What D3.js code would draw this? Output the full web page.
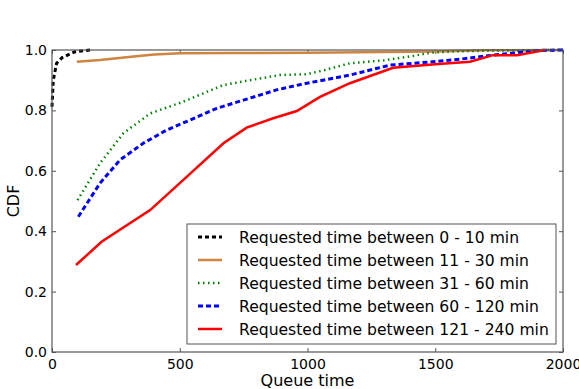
<!DOCTYPE html>
<html>
<head>
<meta charset="utf-8">
<script src="https://cdn.jsdelivr.net/npm/d3@7"></script>
<style>
  body { margin: 0; background: #fff; }
  text { font-family: "DejaVu Sans", sans-serif; }
</style>
</head>
<body>
<div id="chart-area"></div>
<script>
// queue time (x) and CDF (y) for each requested-time bucket
const q0_10   = [0, 5, 18, 40, 90, 150]
const cdf0_10 = [0.812, 0.90, 0.956, 0.975, 0.994, 1.0]

const q11_30   = [97, 188, 300, 400, 501, 700, 1000, 1500, 1700, 2000]
const cdf11_30 = [0.961, 0.967, 0.977, 0.985, 0.989, 0.99, 0.991, 0.995, 0.999, 1.0]

const q31_60   = [100, 188, 279, 384, 514, 671, 775, 892, 997, 1060, 1166, 1300, 1413, 1479, 1600, 1800, 2000]
const cdf31_60 = [0.503, 0.625, 0.724, 0.79, 0.829, 0.884, 0.90, 0.917, 0.92, 0.932, 0.956, 0.966, 0.98, 0.991, 0.996, 0.999, 1.0]

const q60_120   = [103, 188, 266, 357, 449, 540, 645, 749, 879, 997, 1166, 1323, 1491, 1600, 1726, 1898, 2000]
const cdf60_120 = [0.448, 0.559, 0.636, 0.691, 0.735, 0.768, 0.807, 0.834, 0.868, 0.89, 0.917, 0.95, 0.961, 0.97, 0.983, 0.998, 1.0]

const q121_240   = [94, 194, 384, 527, 671, 762, 866, 958, 1049, 1166, 1335, 1500, 1636, 1726, 1820, 1930]
const cdf121_240 = [0.288, 0.365, 0.47, 0.58, 0.691, 0.743, 0.774, 0.798, 0.845, 0.89, 0.941, 0.953, 0.961, 0.983, 0.983, 1.0]

const seriesNames = [
  "Requested time between 0 - 10 min",
  "Requested time between 11 - 30 min",
  "Requested time between 31 - 60 min",
  "Requested time between 60 - 120 min",
  "Requested time between 121 - 240 min"
]
const xTicks = [0, 500, 1000, 1500, 2000]
const yTicks = [0.0, 0.2, 0.4, 0.6, 0.8, 1.0]

const MARGIN = { LEFT: 52, RIGHT: 16, TOP: 50, BOTTOM: 37 }
const WIDTH = 579 - MARGIN.LEFT - MARGIN.RIGHT
const HEIGHT = 389 - MARGIN.TOP - MARGIN.BOTTOM

const svg = d3.select("#chart-area").append("svg")
  .attr("width", 579)
  .attr("height", 389)

const g = svg.append("g")
  .attr("transform", "translate(" + MARGIN.LEFT + ", " + MARGIN.TOP + ")")

const x = d3.scaleLinear().domain([0, 2000]).range([0, WIDTH])
const y = d3.scaleLinear().domain([0, 1]).range([HEIGHT, 0])

// ticks on all four sides, pointing inwards
const axisColor = "#555"
function styleAxis(sel, showText) {
  sel.select(".domain").remove()
  sel.selectAll(".tick line").attr("stroke", axisColor)
  sel.selectAll(".tick text")
    .attr("font-size", "14px")
    .attr("fill", "#000")
    .style("display", showText ? null : "none")
}

g.append("g")
  .attr("transform", "translate(0, " + HEIGHT + ")")
  .call(d3.axisBottom(x).tickValues(xTicks).tickSize(-4).tickPadding(7).tickFormat(d3.format("d")))
  .call(styleAxis, true)
g.append("g")
  .call(d3.axisTop(x).tickValues(xTicks).tickSize(-4))
  .call(styleAxis, false)
g.append("g")
  .call(d3.axisLeft(y).tickValues(yTicks).tickSize(-4).tickPadding(5).tickFormat(d3.format(".1f")))
  .call(styleAxis, true)
g.append("g")
  .attr("transform", "translate(" + WIDTH + ", 0)")
  .call(d3.axisRight(y).tickValues(yTicks).tickSize(-4))
  .call(styleAxis, false)

// labels
g.append("text")
  .attr("x", WIDTH / 2)
  .attr("y", HEIGHT + 34)
  .attr("font-size", "16px")
  .attr("text-anchor", "middle")
  .text("Queue time")

g.append("text")
  .attr("x", -(HEIGHT / 2))
  .attr("y", -33)
  .attr("font-size", "16px")
  .attr("text-anchor", "middle")
  .attr("transform", "rotate(-90)")
  .text("CDF")

const series = [
  { name: seriesNames[0], xs: q0_10, ys: cdf0_10, color: "#000000", dash: "4,3", w: 3 },
  { name: seriesNames[1], xs: q11_30, ys: cdf11_30, color: "#cd853f", dash: null, w: 2.5 },
  { name: seriesNames[2], xs: q31_60, ys: cdf31_60, color: "#008000", dash: "1.5,3.5", w: 2.5 },
  { name: seriesNames[3], xs: q60_120, ys: cdf60_120, color: "#0000ff", dash: "5,3", w: 3 },
  { name: seriesNames[4], xs: q121_240, ys: cdf121_240, color: "#ff0000", dash: null, w: 2.5 }
]

const line = d3.line()
  .x(function(d) { return x(d[0]) })
  .y(function(d) { return y(d[1]) })

svg.append("clipPath").attr("id", "plotclip")
  .append("rect").attr("x", -2).attr("y", -2).attr("width", WIDTH + 4).attr("height", HEIGHT + 4)

g.append("g").attr("clip-path", "url(#plotclip)")
  .selectAll("path")
  .data(series)
  .enter().append("path")
    .attr("d", function(s) { return line(s.xs.map(function(v, i) { return [v, s.ys[i]] })) })
    .attr("fill", "none")
    .attr("stroke", function(s) { return s.color })
    .attr("stroke-width", function(s) { return s.w })
    .attr("stroke-dasharray", function(s) { return s.dash })

// frame
g.append("rect")
  .attr("width", WIDTH)
  .attr("height", HEIGHT)
  .attr("fill", "none")
  .attr("stroke", axisColor)
  .attr("stroke-width", 1.2)

// legend
const legend = g.append("g")
  .attr("transform", "translate(" + (187 - MARGIN.LEFT) + ", " + (224 - MARGIN.TOP) + ")")

legend.append("rect")
  .attr("width", 369)
  .attr("height", 120)
  .attr("fill", "#fff")
  .attr("stroke", "#555")
  .attr("stroke-width", 1)

const items = legend.selectAll(".item")
  .data(series)
  .enter().append("g")
    .attr("class", "item")
    .attr("transform", function(s, i) { return "translate(0, " + (13 + i * 23) + ")" })

items.append("line")
  .attr("x1", 11).attr("x2", 35)
  .attr("stroke", function(s) { return s.color })
  .attr("stroke-width", function(s) { return s.w })
  .attr("stroke-dasharray", function(s) { return s.dash })

items.append("text")
  .attr("x", 52)
  .attr("y", 5.5)
  .attr("font-size", "15.6px")
  .text(function(s) { return s.name })
</script>
</body>
</html>
